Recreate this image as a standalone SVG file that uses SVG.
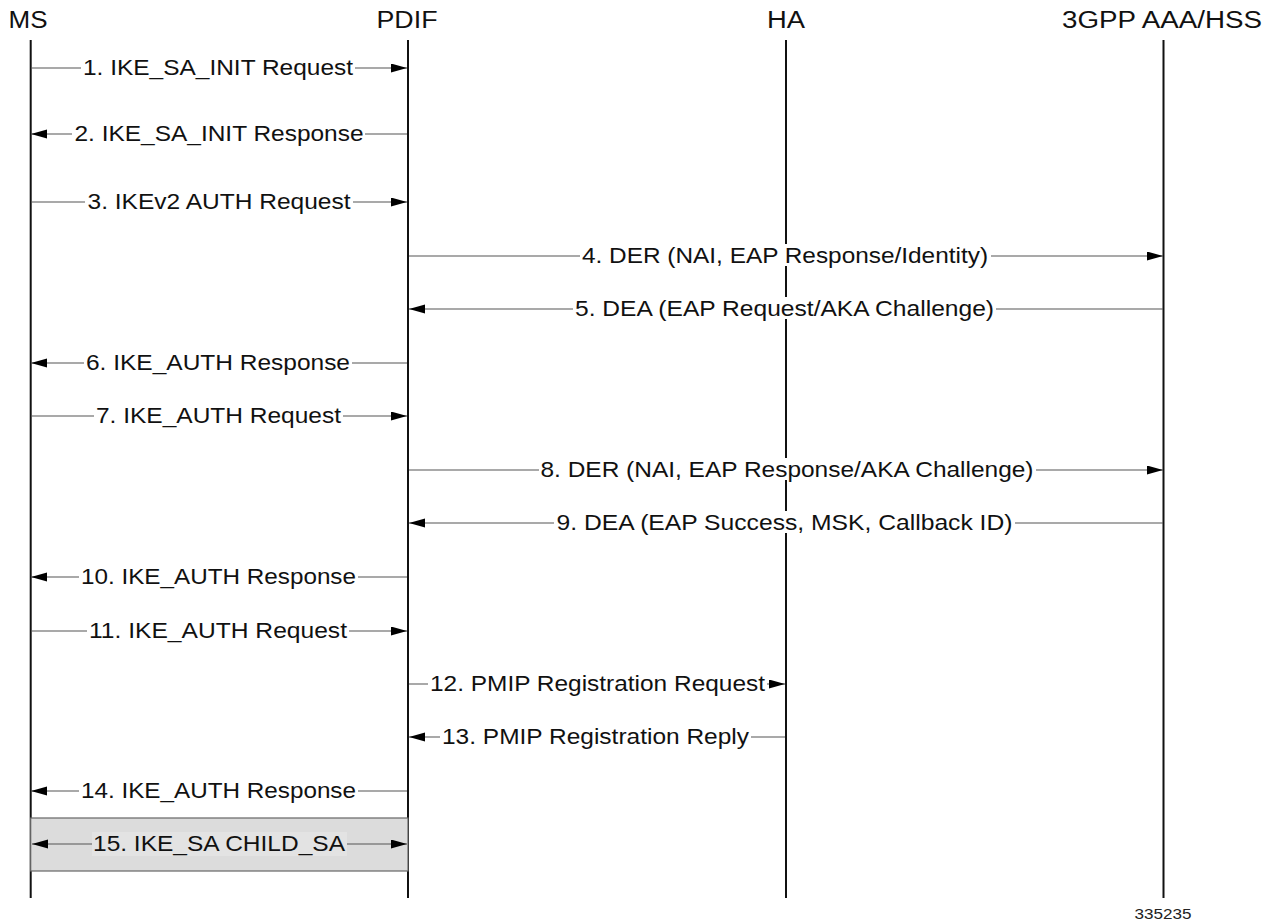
<svg xmlns="http://www.w3.org/2000/svg" width="1269" height="924" viewBox="0 0 1269 924">
<style>
.hdr{font-family:"Liberation Sans",Arial,sans-serif;font-size:23px;fill:#111;text-anchor:middle}
.lbl{font-family:"Liberation Sans",Arial,sans-serif;font-size:22px;fill:#111;text-anchor:middle}
.life{stroke:#111;stroke-width:2}
.msg{stroke:#555;stroke-width:1.2;fill:none;marker-end:url(#ah)}
.bg{fill:#fff}
</style>
<defs>
<marker id="ah" markerUnits="userSpaceOnUse" markerWidth="17" markerHeight="10" refX="16" refY="4.5" orient="auto-start-reverse">
<path d="M0,0 L16,4.5 L0,9 z" fill="#000"/>
</marker>
</defs>
<rect width="1269" height="924" fill="#fff"/>
<g id="node-ms">
<text class="hdr" x="28" y="28" textLength="39" lengthAdjust="spacingAndGlyphs">MS</text>
<line class="life" x1="30.7" y1="40" x2="30.7" y2="898"/>
</g>
<g id="node-pdif">
<text class="hdr" x="407" y="28" textLength="61" lengthAdjust="spacingAndGlyphs">PDIF</text>
<line class="life" x1="408" y1="40" x2="408" y2="898"/>
</g>
<g id="node-ha">
<text class="hdr" x="786" y="28" textLength="38" lengthAdjust="spacingAndGlyphs">HA</text>
<line class="life" x1="786" y1="40" x2="786" y2="898"/>
</g>
<g id="node-aaa">
<text class="hdr" x="1162" y="28" textLength="200" lengthAdjust="spacingAndGlyphs">3GPP AAA/HSS</text>
<line class="life" x1="1163.5" y1="40" x2="1163.5" y2="898"/>
</g>
<g id="box-15">
<rect x="30.7" y="818" width="377.3" height="53" fill="#dcdcdc" stroke="#666" stroke-width="1.2"/>
</g>
<g id="connectors">
<line class="msg" x1="31" y1="68" x2="407" y2="68"/>
<line class="msg" x1="407" y1="134" x2="31" y2="134"/>
<line class="msg" x1="31" y1="202" x2="407" y2="202"/>
<line class="msg" x1="409" y1="256" x2="1163" y2="256"/>
<line class="msg" x1="1163" y1="309" x2="409" y2="309"/>
<line class="msg" x1="407" y1="363" x2="31" y2="363"/>
<line class="msg" x1="31" y1="416" x2="407" y2="416"/>
<line class="msg" x1="409" y1="470" x2="1163" y2="470"/>
<line class="msg" x1="1163" y1="523" x2="409" y2="523"/>
<line class="msg" x1="407" y1="577" x2="31" y2="577"/>
<line class="msg" x1="31" y1="631" x2="407" y2="631"/>
<line class="msg" x1="409" y1="684" x2="785" y2="684"/>
<line class="msg" x1="785" y1="737" x2="409" y2="737"/>
<line class="msg" x1="407" y1="791" x2="31" y2="791"/>
<line class="msg" x1="32" y1="844" x2="407" y2="844" style="marker-start:url(#ah)"/>
</g>
<g id="labels">
<rect class="bg" x="81" y="56" width="274" height="22"/>
<text class="lbl" x="218" y="75" textLength="270" lengthAdjust="spacingAndGlyphs">1. IKE_SA_INIT Request</text>
<rect class="bg" x="72" y="122" width="293" height="22"/>
<text class="lbl" x="219" y="141" textLength="289" lengthAdjust="spacingAndGlyphs">2. IKE_SA_INIT Response</text>
<rect class="bg" x="85" y="190" width="268" height="22"/>
<text class="lbl" x="219" y="209" textLength="263" lengthAdjust="spacingAndGlyphs">3. IKEv2 AUTH Request</text>
<rect class="bg" x="580" y="244" width="411" height="22"/>
<text class="lbl" x="785" y="263" textLength="406" lengthAdjust="spacingAndGlyphs">4. DER (NAI, EAP Response/Identity)</text>
<rect class="bg" x="573" y="297" width="423" height="22"/>
<text class="lbl" x="784.5" y="316" textLength="419" lengthAdjust="spacingAndGlyphs">5. DEA (EAP Request/AKA Challenge)</text>
<rect class="bg" x="84" y="351" width="268" height="22"/>
<text class="lbl" x="218" y="370" textLength="264" lengthAdjust="spacingAndGlyphs">6. IKE_AUTH Response</text>
<rect class="bg" x="94" y="404" width="249" height="22"/>
<text class="lbl" x="218.5" y="423" textLength="245" lengthAdjust="spacingAndGlyphs">7. IKE_AUTH Request</text>
<rect class="bg" x="539" y="458" width="497" height="22"/>
<text class="lbl" x="787" y="477" textLength="493" lengthAdjust="spacingAndGlyphs">8. DER (NAI, EAP Response/AKA Challenge)</text>
<rect class="bg" x="554" y="511" width="461" height="22"/>
<text class="lbl" x="784.5" y="530" textLength="456" lengthAdjust="spacingAndGlyphs">9. DEA (EAP Success, MSK, Callback ID)</text>
<rect class="bg" x="79" y="565" width="279" height="22"/>
<text class="lbl" x="218.5" y="584" textLength="275" lengthAdjust="spacingAndGlyphs">10. IKE_AUTH Response</text>
<rect class="bg" x="87" y="619" width="262" height="22"/>
<text class="lbl" x="218" y="638" textLength="258" lengthAdjust="spacingAndGlyphs">11. IKE_AUTH Request</text>
<rect class="bg" x="428" y="672" width="339" height="22"/>
<text class="lbl" x="597.5" y="691" textLength="335" lengthAdjust="spacingAndGlyphs">12. PMIP Registration Request</text>
<rect class="bg" x="440" y="725" width="311" height="22"/>
<text class="lbl" x="595.5" y="744" textLength="307" lengthAdjust="spacingAndGlyphs">13. PMIP Registration Reply</text>
<rect class="bg" x="79" y="779" width="279" height="22"/>
<text class="lbl" x="218.5" y="798" textLength="275" lengthAdjust="spacingAndGlyphs">14. IKE_AUTH Response</text>
<rect x="92" y="832" width="255" height="24" fill="#e3e3e3"/>
<text class="lbl" x="219" y="851" textLength="252" lengthAdjust="spacingAndGlyphs">15. IKE_SA CHILD_SA</text>
</g>
<text x="1163" y="919" font-family="'Liberation Sans',Arial,sans-serif" font-size="15" fill="#222" text-anchor="middle" textLength="57" lengthAdjust="spacingAndGlyphs">335235</text>
</svg>
